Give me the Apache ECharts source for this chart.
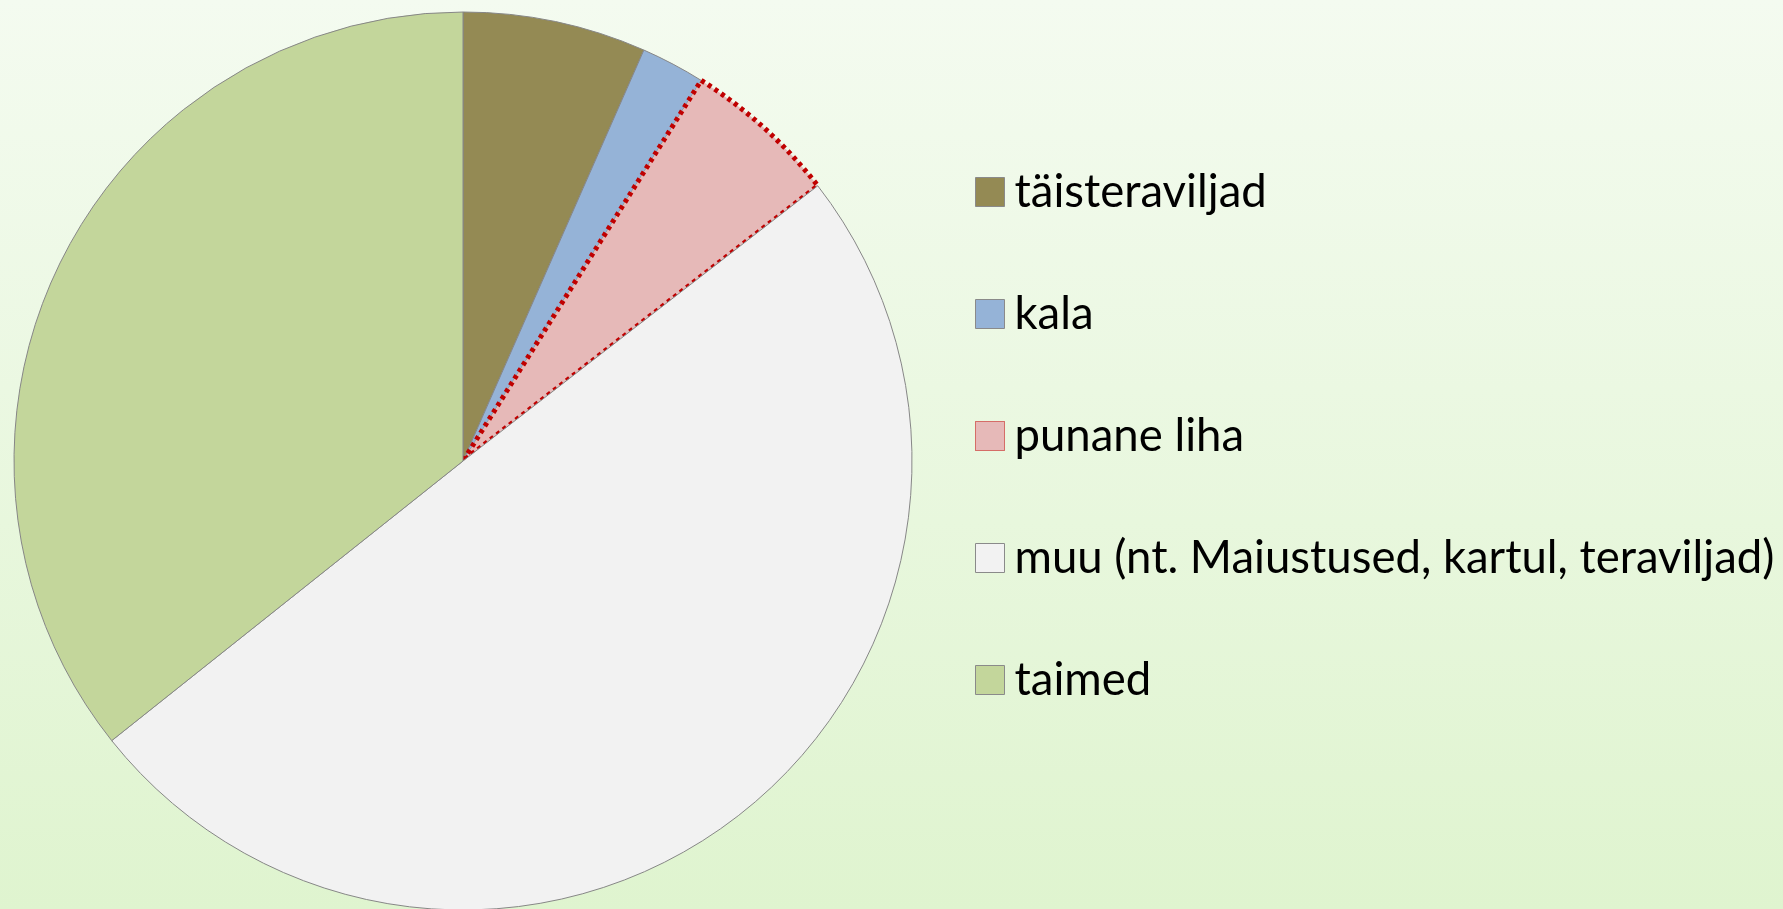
<!DOCTYPE html>
<html>
<head>
<meta charset="utf-8">
<title>Toidu jaotus</title>
<script src="https://cdn.jsdelivr.net/npm/echarts@6/dist/echarts.min.js"></script>
<style>
  html, body { margin: 0; padding: 0; }
  #chart {
    width: 1783px;
    height: 909px;
    background: linear-gradient(to bottom, #f4fbf0, #dff4cf);
  }
</style>
</head>
<body>
<div id="chart"></div>
<script>
// andmed (protsendid, loetud jooniselt)
const categories = ["täisteraviljad", "kala", "punane liha", "muu (nt. Maiustused, kartul, teraviljad)", "taimed"];
const values = [6.6, 2.3, 5.6, 49.8, 35.7];
const colors = ["#948a54", "#95b3d7", "#e6b9b8", "#f2f2f2", "#c3d69b"];

const chart = echarts.init(document.getElementById("chart"), null, { renderer: "canvas" });

const pieData = categories.map((name, i) => {
  const item = {
    name: name,
    value: values[i],
    itemStyle: { color: colors[i], borderColor: "#868686", borderWidth: 1 }
  };
  if (name === "punane liha") {
    // punane täpiline ääris nagu originaalis
    item.itemStyle.borderColor = "#c00000";
    item.itemStyle.borderWidth = 5;
    item.itemStyle.borderType = [4, 4];
  }
  return item;
});

const legendData = categories.map((name) => ({
  name: name,
  itemStyle: name === "punane liha"
    ? { borderColor: "#c00000", borderWidth: 1, borderType: "dotted" }
    : { borderColor: "#8a8a8a", borderWidth: 1 }
}));

chart.setOption({
  animation: false,
  backgroundColor: "transparent",
  legend: {
    orient: "vertical",
    left: 970,
    top: 162,
    icon: "rect",
    itemWidth: 29,
    itemHeight: 29,
    itemGap: 72,
    selectedMode: false,
    data: legendData,
    textStyle: {
      fontFamily: "Lato",
      fontSize: 45.5,
      lineHeight: 50,
      color: "#000",
      padding: [0, 0, 0, 5]
    }
  },
  series: [
    {
      type: "pie",
      center: [463, 461],
      radius: 449,
      startAngle: 90,
      clockwise: true,
      silent: true,
      label: { show: false },
      labelLine: { show: false },
      data: pieData
    }
  ]
});
</script>
</body>
</html>
